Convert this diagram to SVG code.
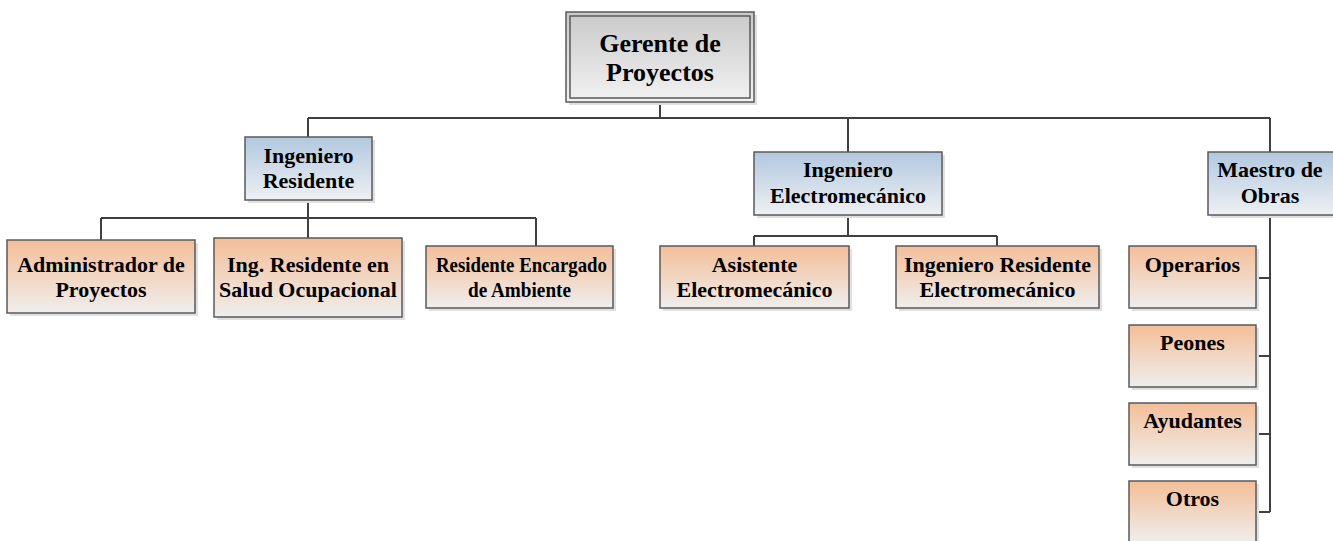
<svg xmlns="http://www.w3.org/2000/svg" width="1333" height="541" viewBox="0 0 1333 541">
<defs>
<linearGradient id="gGray" x1="0" y1="0" x2="0" y2="1"><stop offset="0" stop-color="#c9c9c9"/><stop offset="1" stop-color="#f2f2f2"/></linearGradient>
<linearGradient id="gBlue" x1="0" y1="0" x2="0" y2="1"><stop offset="0" stop-color="#b2c8df"/><stop offset="1" stop-color="#eef0f3"/></linearGradient>
<linearGradient id="gOrange" x1="0" y1="0" x2="0" y2="1"><stop offset="0" stop-color="#f4be98"/><stop offset="1" stop-color="#efeeed"/></linearGradient>
</defs>
<style>
.sh{fill:#e0e0e0;}
.box{stroke:#5a5a5a;stroke-width:1.5;}
.gray{fill:url(#gGray);}
.blue{fill:url(#gBlue);}
.orange{fill:url(#gOrange);}
.t{font-family:"Liberation Serif","Times New Roman",serif;font-weight:bold;font-size:22px;fill:#000;text-anchor:middle;}
.big{font-size:26px;}
.conn{fill:none;stroke:#404040;stroke-width:2;}
</style>
<g id="connectors">
<path class="conn" d="M660,102 V118 M308,118 H1270 M308,118 V137 M848,118 V152 M1270,118 V152"/>
<path class="conn" d="M308,200 V218 M101,218 H536 M101,218 V240 M308,218 V238 M536,218 V246"/>
<path class="conn" d="M848,215 V236 M754,236 H997 M754,236 V246 M997,236 V246"/>
<path class="conn" d="M1270,215 V512 M1256,278 H1270 M1256,356 H1270 M1256,434 H1270 M1256,512 H1270"/>
</g>
<g id="gerente">
<rect class="sh" x="569" y="15" width="188" height="90"/>
<rect class="box gray" x="566" y="12" width="188" height="90"/>
<rect fill="none" stroke="#5a5a5a" stroke-width="1.5" x="570" y="16" width="180" height="82"/>
<text class="t big" x="660" y="52">Gerente de</text>
<text class="t big" x="660" y="81">Proyectos</text>
</g>
<g id="ing-residente">
<rect class="sh" x="248" y="140" width="127" height="63"/>
<rect class="box blue" x="245" y="137" width="127" height="63"/>
<text class="t" x="308.5" y="163">Ingeniero</text>
<text class="t" x="308.5" y="188">Residente</text>
</g>
<g id="ing-electromecanico">
<rect class="sh" x="757" y="155" width="188" height="63"/>
<rect class="box blue" x="754" y="152" width="188" height="63"/>
<text class="t" x="848" y="177">Ingeniero</text>
<text class="t" x="848" y="203">Electromecánico</text>
</g>
<g id="maestro-obras">
<rect class="sh" x="1211" y="155" width="126" height="63"/>
<rect class="box blue" x="1208" y="152" width="126" height="63"/>
<text class="t" x="1270" y="177">Maestro de</text>
<text class="t" x="1270" y="203">Obras</text>
</g>
<g id="administrador">
<rect class="sh" x="10" y="243" width="188" height="73"/>
<rect class="box orange" x="7" y="240" width="188" height="73"/>
<text class="t" x="101" y="272">Administrador de</text>
<text class="t" x="101" y="297">Proyectos</text>
</g>
<g id="salud-ocupacional">
<rect class="sh" x="217" y="241" width="188" height="79"/>
<rect class="box orange" x="214" y="238" width="188" height="79"/>
<text class="t" x="308" y="272">Ing. Residente en</text>
<text class="t" x="308" y="297">Salud Ocupacional</text>
</g>
<g id="encargado-ambiente">
<rect class="sh" x="429" y="249" width="187" height="62"/>
<rect class="box orange" x="426" y="246" width="187" height="62"/>
<text class="t" x="521.5" y="272" textLength="171" lengthAdjust="spacingAndGlyphs">Residente Encargado</text>
<text class="t" x="519.5" y="297" textLength="103" lengthAdjust="spacingAndGlyphs">de Ambiente</text>
</g>
<g id="asistente">
<rect class="sh" x="663" y="249" width="189" height="62"/>
<rect class="box orange" x="660" y="246" width="189" height="62"/>
<text class="t" x="754.5" y="272">Asistente</text>
<text class="t" x="754.5" y="297">Electromecánico</text>
</g>
<g id="ing-residente-electromecanico">
<rect class="sh" x="899" y="249" width="203" height="62"/>
<rect class="box orange" x="896" y="246" width="203" height="62"/>
<text class="t" x="997.5" y="272">Ingeniero Residente</text>
<text class="t" x="997.5" y="297">Electromecánico</text>
</g>
<g id="operarios">
<rect class="sh" x="1132" y="249" width="127" height="62"/>
<rect class="box orange" x="1129" y="246" width="127" height="62"/>
<text class="t" x="1192.5" y="272">Operarios</text>
</g>
<g id="peones">
<rect class="sh" x="1132" y="328" width="127" height="62"/>
<rect class="box orange" x="1129" y="325" width="127" height="62"/>
<text class="t" x="1192.5" y="350">Peones</text>
</g>
<g id="ayudantes">
<rect class="sh" x="1132" y="406" width="127" height="62"/>
<rect class="box orange" x="1129" y="403" width="127" height="62"/>
<text class="t" x="1192.5" y="428">Ayudantes</text>
</g>
<g id="otros">
<rect class="sh" x="1132" y="484" width="127" height="62"/>
<rect class="box orange" x="1129" y="481" width="127" height="62"/>
<text class="t" x="1192.5" y="506">Otros</text>
</g>
</svg>
